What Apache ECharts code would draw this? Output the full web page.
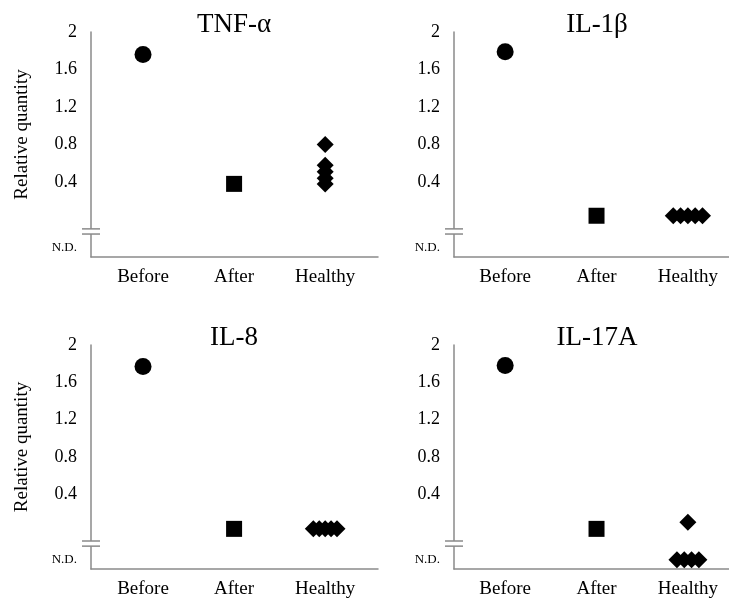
<!DOCTYPE html>
<html><head><meta charset="utf-8">
<script src="https://cdn.jsdelivr.net/npm/echarts@6/dist/echarts.min.js"></script>
<style>html,body{margin:0;padding:0;background:#fff}#c{width:729px;height:604px}</style>
</head><body><div id="c"></div>
<script>
const categories = ['Before', 'After', 'Healthy'];
const panelTitles = ['TNF-α', 'IL-1β', 'IL-8', 'IL-17A'];
const yTickValues = [0.4, 0.8, 1.2, 1.6, 2];
const yTickLabels = ['0.4', '0.8', '1.2', '1.6', '2'];
const ndLabel = 'N.D.';
const ndValue = -0.3;
const yAxisName = 'Relative quantity';

const tnfBefore = [1.76];
const tnfAfter = [0.38];
const tnfHealthy = [0.80, 0.58, 0.51, 0.44, 0.38];
const tnfHealthyJitter = [0, 0, 0, 0, 0];

const il1bBefore = [1.79];
const il1bAfter = [0.04];
const il1bHealthy = [0.04, 0.04, 0.04, 0.04, 0.04];
const il1bHealthyJitter = [-0.16, -0.08, 0, 0.08, 0.16];

const il8Before = [1.77];
const il8After = [0.03];
const il8Healthy = [0.03, 0.03, 0.03, 0.03, 0.03];
const il8HealthyJitter = [-0.13, -0.065, 0, 0.065, 0.13];

const il17Before = [1.78];
const il17After = [0.03];
const il17Healthy = [0.10, ndValue, ndValue, ndValue, ndValue];
const il17HealthyJitter = [0, -0.12, -0.04, 0.04, 0.12];

const panels = [
  { before: tnfBefore, after: tnfAfter, healthy: tnfHealthy, jitter: tnfHealthyJitter },
  { before: il1bBefore, after: il1bAfter, healthy: il1bHealthy, jitter: il1bHealthyJitter },
  { before: il8Before, after: il8After, healthy: il8Healthy, jitter: il8HealthyJitter },
  { before: il17Before, after: il17After, healthy: il17Healthy, jitter: il17HealthyJitter }
];

const FONT = "'Liberation Serif', serif";
const AXIS_COLOR = '#8a8a8a';
const grids = [
  { left: 91, top: 32, width: 287, height: 225 },
  { left: 454, top: 32, right: 0, height: 225 },
  { left: 91, top: 345, width: 287, height: 224 },
  { left: 454, top: 345, right: 0, height: 224 }
];
const xRanges = [[-0.571, 2.58], [-0.56, 2.45], [-0.571, 2.58], [-0.56, 2.45]];
const titlePos = [[234, 11], [597, 11], [234, 324], [597, 324]];

const chart = echarts.init(document.getElementById('c'), null, { renderer: 'canvas' });

function yLabel(v) {
  const k = yTickValues.findIndex(t => Math.abs(t - v) < 1e-6);
  return k >= 0 ? yTickLabels[k] : '';
}

const yAxes = [];
grids.forEach((g, i) => {
  yAxes.push({
    type: 'value', gridIndex: i, min: -0.4, max: 2,
    splitLine: { show: false },
    axisTick: { show: false },
    axisLine: { show: true, onZero: false, lineStyle: { color: AXIS_COLOR, width: 1.5 } },
    name: (i % 2 === 0) ? yAxisName : '',
    nameLocation: 'middle', nameGap: 59,
    nameTextStyle: { fontFamily: FONT, fontSize: 19, color: '#000', padding: [0, 0, 0, 20] },
    axisLabel: {
      customValues: yTickValues, margin: 14,
      formatter: yLabel,
      fontFamily: FONT, fontSize: 18, color: '#000'
    }
  });
});
grids.forEach((g, i) => {
  yAxes.push({
    type: 'value', gridIndex: i, min: -0.4, max: 2, position: 'left',
    splitLine: { show: false }, axisTick: { show: false }, axisLine: { show: false },
    axisLabel: {
      customValues: [ndValue], margin: 14,
      formatter: () => ndLabel,
      fontFamily: FONT, fontSize: 13, color: '#000'
    }
  });
});

const option = {
  animation: false,
  backgroundColor: '#fff',
  textStyle: { fontFamily: FONT },
  title: panelTitles.map((t, i) => ({
    text: t, left: titlePos[i][0], top: titlePos[i][1], textAlign: 'center', padding: 0,
    textStyle: { fontFamily: FONT, fontSize: 27, fontWeight: 'normal', color: '#000' }
  })),
  grid: grids,
  xAxis: grids.map((g, i) => ({
    type: 'value', gridIndex: i, min: xRanges[i][0], max: xRanges[i][1],
    splitLine: { show: false },
    axisTick: { show: false },
    axisLine: { show: true, onZero: false, lineStyle: { color: AXIS_COLOR, width: 1.5 } },
    axisLabel: {
      customValues: [0, 1, 2], margin: 11,
      formatter: v => categories[Math.round(v)],
      fontFamily: FONT, fontSize: 19, color: '#000'
    }
  })),
  yAxis: yAxes,
  series: []
};

const markStyle = { color: '#000', opacity: 1 };
panels.forEach((p, i) => {
  option.series.push({
    type: 'scatter', xAxisIndex: i, yAxisIndex: i, symbol: 'circle', symbolSize: 17,
    itemStyle: markStyle, data: p.before.map(v => [0, v])
  });
  option.series.push({
    type: 'scatter', xAxisIndex: i, yAxisIndex: i, symbol: 'rect', symbolSize: 16,
    itemStyle: markStyle, data: p.after.map(v => [1, v])
  });
  option.series.push({
    type: 'scatter', xAxisIndex: i, yAxisIndex: i, symbol: 'diamond', symbolSize: [17, 17],
    itemStyle: markStyle, data: p.healthy.map((v, k) => [2 + p.jitter[k], v])
  });
});

chart.setOption(option);

// axis break marks on each y axis
const breakLow = -0.155, breakHigh = -0.1;
const graphics = [];
grids.forEach((g, i) => {
  const a = chart.convertToPixel({ xAxisIndex: i, yAxisIndex: i }, [xRanges[i][0], breakHigh]);
  const b = chart.convertToPixel({ xAxisIndex: i, yAxisIndex: i }, [xRanges[i][0], breakLow]);
  graphics.push({ type: 'rect', shape: { x: a[0] - 2, y: a[1], width: 4, height: b[1] - a[1] }, style: { fill: '#fff' }, z: 100 });
  graphics.push({ type: 'line', shape: { x1: a[0] - 9, y1: a[1], x2: a[0] + 9, y2: a[1] }, style: { stroke: AXIS_COLOR, lineWidth: 1.5 }, z: 101 });
  graphics.push({ type: 'line', shape: { x1: b[0] - 9, y1: b[1], x2: b[0] + 9, y2: b[1] }, style: { stroke: AXIS_COLOR, lineWidth: 1.5 }, z: 101 });
});
chart.setOption({ graphic: graphics });
</script>
</body></html>
